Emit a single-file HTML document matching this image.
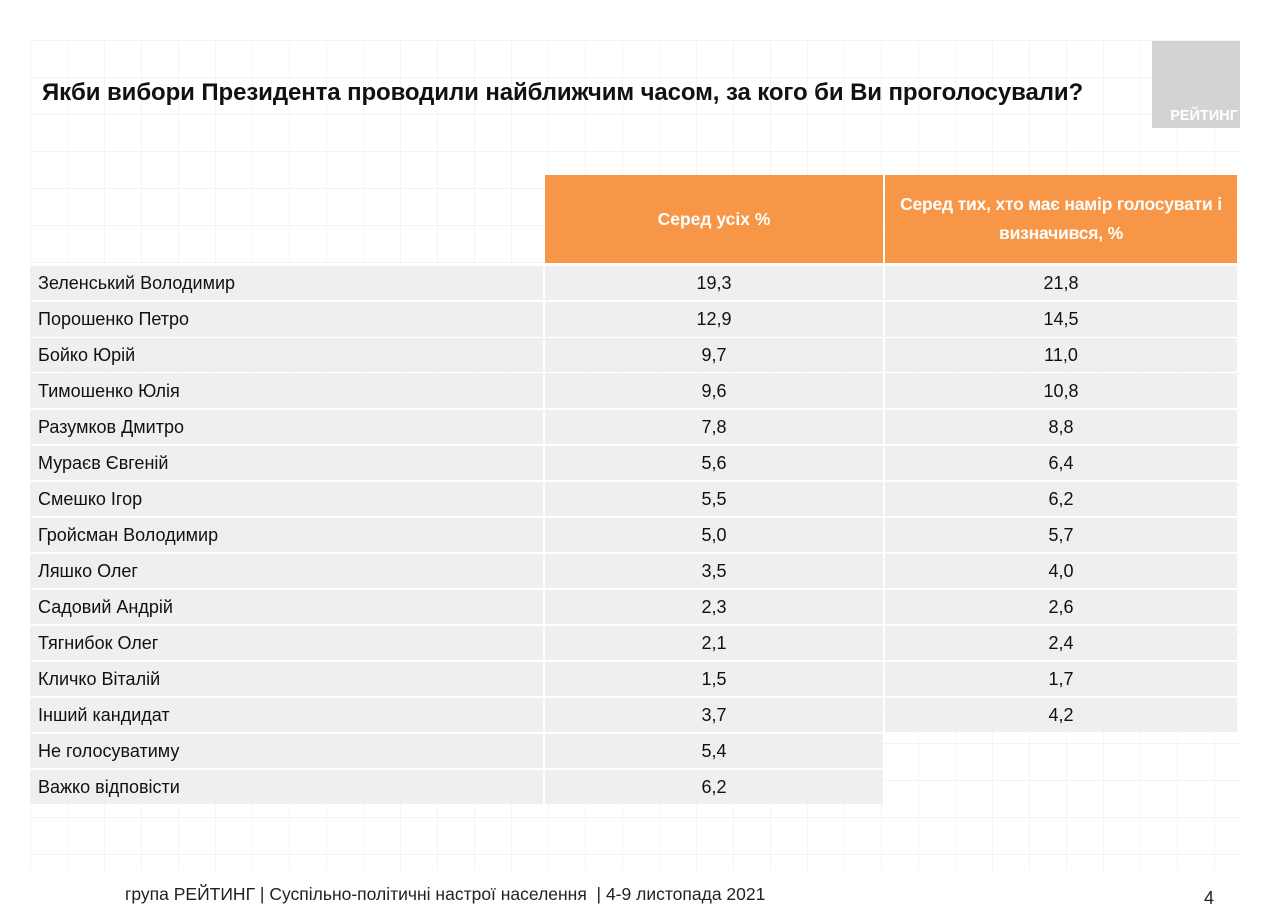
<!DOCTYPE html>
<html><head><meta charset="utf-8">
<style>
body{margin:0;width:1261px;height:913px;background:#fff;position:relative;overflow:hidden;font-family:"Liberation Sans",sans-serif;}
.grid{position:absolute;left:30px;top:40px;width:1210px;height:830px;
background-image:linear-gradient(#f3f3f3 1px,transparent 1px),linear-gradient(90deg,#f5f5f5 1px,transparent 1px);background-size:37px 37px;}
.abs{position:absolute;}
.title{left:42px;top:79px;font-size:24px;font-weight:bold;color:#111;white-space:nowrap;letter-spacing:-0.1px;}
.logo{left:1152px;top:41px;width:88px;height:87px;background:#d3d3d3;}
.logo span{position:absolute;bottom:4px;right:2px;color:#fff;font-weight:bold;font-size:14.5px;}
.hdr{background:#f79646;color:#fff;font-weight:bold;font-size:17.5px;text-align:center;display:flex;align-items:center;justify-content:center;line-height:29px;}
.cell{background:#efefef;font-size:18px;color:#111;display:flex;align-items:center;}
.num{justify-content:center;}
.foot{top:884px;left:125px;font-size:17.5px;color:#222;white-space:nowrap;}
</style></head><body>
<div class="grid abs"></div>
<div class="abs title">Якби вибори Президента проводили найближчим часом, за кого би Ви проголосували?</div>
<div class="abs logo"><span>РЕЙТИНГ</span></div>
<div class="abs hdr" style="left:545px;top:175px;width:338px;height:88px">Серед усіх %</div>
<div class="abs hdr" style="left:885px;top:175px;width:352px;height:88px;white-space:nowrap;letter-spacing:-0.2px">Серед тих, хто має намір голосувати і<br>визначився, %</div>
<div id="tbl"></div>
<div class="abs foot">група РЕЙТИНГ | Суспільно-політичні настрої населення &nbsp;| 4-9 листопада 2021</div>
<div class="abs" style="top:888px;left:1204px;font-size:18px;color:#222">4</div>
<script>
const candidates=["Зеленський Володимир","Порошенко Петро","Бойко Юрій","Тимошенко Юлія","Разумков Дмитро","Мураєв Євгеній","Смешко Ігор","Гройсман Володимир","Ляшко Олег","Садовий Андрій","Тягнибок Олег","Кличко Віталій","Інший кандидат","Не голосуватиму","Важко відповісти"];
const allVoters=["19,3","12,9","9,7","9,6","7,8","5,6","5,5","5,0","3,5","2,3","2,1","1,5","3,7","5,4","6,2"];
const decidedVoters=["21,8","14,5","11,0","10,8","8,8","6,4","6,2","5,7","4,0","2,6","2,4","1,7","4,2","",""];
const tbl=document.getElementById('tbl');
const top0=266,rh=36;
function cell(x,w,y,txt,cls,name){
  const d=document.createElement('div');
  d.className='abs cell '+cls;
  d.style.cssText=`left:${x}px;top:${y}px;width:${w}px;height:${rh-2}px;`+(cls===''?'padding-left:8px;box-sizing:border-box;':'');
  d.textContent=txt;
  
  
  tbl.appendChild(d);
}
candidates.forEach((c,i)=>{
  const y=top0+i*rh;
  cell(30,513,y,c,'','row-label');
  cell(545,338,y,allVoters[i],'num','value-all');
  if(decidedVoters[i]!=='') cell(885,352,y,decidedVoters[i],'num','value-decided');
});
</script>
</body></html>
